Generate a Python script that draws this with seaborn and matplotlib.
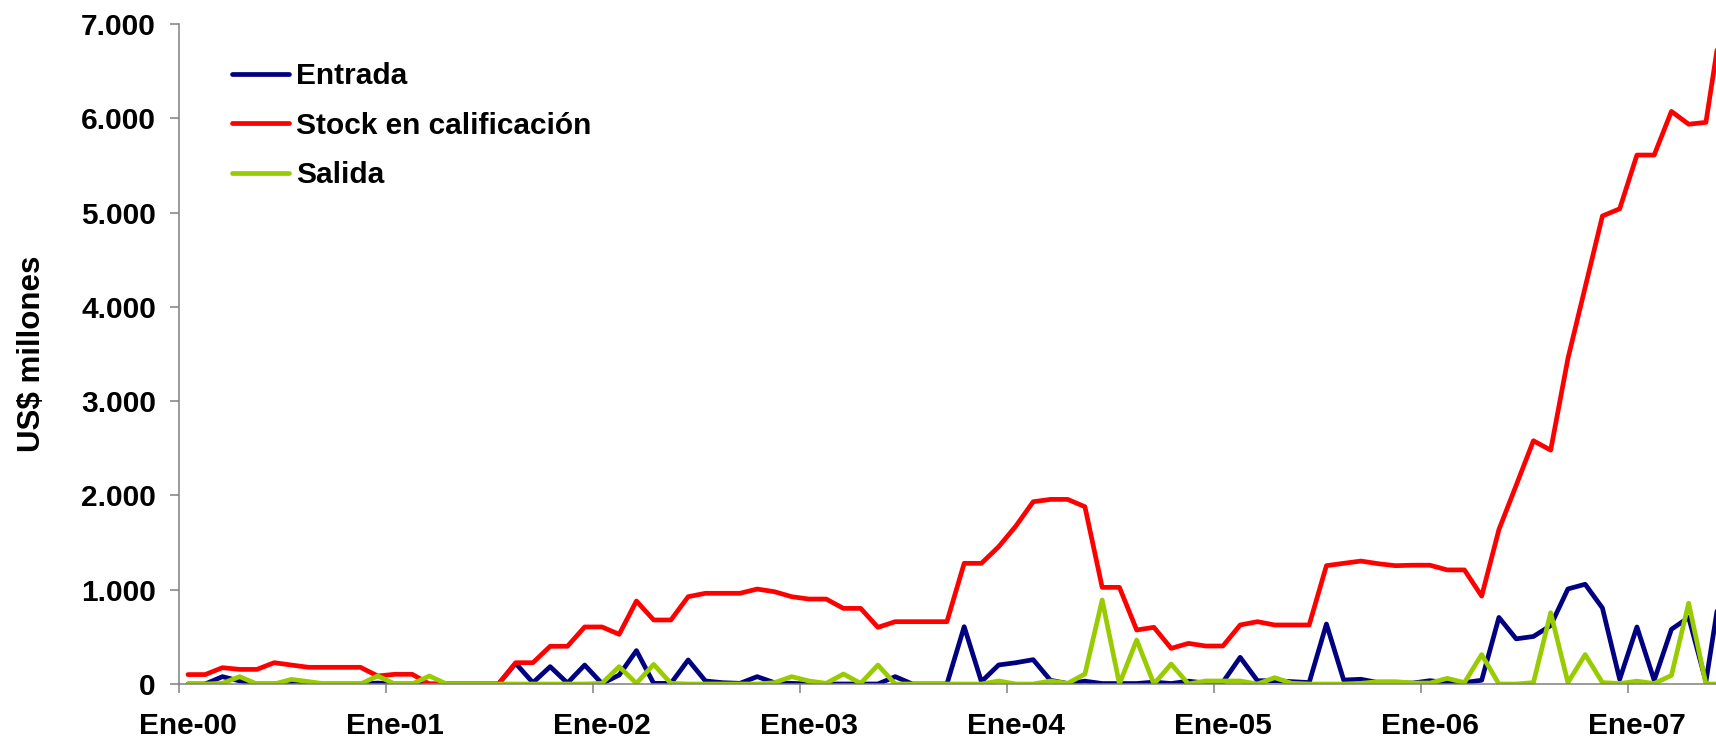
import numpy as np
import pandas as pd
import matplotlib
matplotlib.use("Agg")
import matplotlib.pyplot as plt
from matplotlib.ticker import FixedLocator, FuncFormatter
from matplotlib.lines import Line2D
import seaborn as sns

# valores mensuales desde Ene-00 (US$ millones)
entrada = [0, 0, 78, 32, 0, 0, 14, 0, 0, 0, 0, 10,
           0, 0, 0, 0, 0, 0, 0, 219, 14, 184, 10, 201,
           5, 95, 354, 7, 7, 255, 32, 14, 7, 78, 14, 7,
           0, 0, 0, 0, 0, 78, 0, 0, 0, 608, 25, 202,
           226, 258, 40, 5, 30, 5, 5, 5, 20, 5, 30, 10,
           20, 283, 35, 35, 25, 15, 636, 42, 50, 15, 10, 10,
           35, 15, 15, 40, 706, 479, 504, 620, 1008, 1058, 806, 50,
           605, 40, 580, 706, 25, 1190]
stock = [100, 100, 173, 155, 155, 226, 201, 177, 177, 177, 177, 85,
         103, 103, 0, 0, 0, 0, 0, 226, 226, 400, 400, 605,
         605, 527, 880, 679, 679, 926, 962, 962, 962, 1007, 979, 926,
         901, 901, 802, 802, 601, 661, 661, 661, 661, 1280, 1280, 1456,
         1676, 1933, 1958, 1958, 1880, 1025, 1025, 573, 601, 378, 431, 403,
         403, 626, 661, 626, 626, 626, 1255, 1280, 1304, 1276, 1255, 1260,
         1260, 1210, 1210, 932, 1638, 2107, 2580, 2480, 3452, 4208, 4964, 5040,
         5610, 5610, 6073, 5937, 5957, 7150]
salida = [0, 0, 7, 78, 0, 0, 49, 25, 0, 0, 0, 85,
          0, 0, 85, 0, 0, 0, 0, 0, 0, 0, 0, 0,
          7, 184, 7, 208, 7, 0, 0, 0, 0, 0, 14, 78,
          32, 7, 106, 7, 201, 0, 0, 0, 0, 0, 0, 32,
          0, 0, 32, 7, 106, 891, 0, 467, 0, 212, 0, 32,
          32, 32, 0, 67, 7, 0, 0, 0, 7, 25, 25, 10,
          10, 60, 15, 312, 0, 0, 15, 756, 15, 312, 15, 5,
          30, 5, 91, 857, 0, 0]

series_names = ['Entrada', 'Stock en calificación', 'Salida']
series_colors = ['#000080', '#FF0000', '#99CC00']
year_labels = ['Ene-00', 'Ene-01', 'Ene-02', 'Ene-03',
               'Ene-04', 'Ene-05', 'Ene-06', 'Ene-07']
y_ticks = [0, 1000, 2000, 3000, 4000, 5000, 6000, 7000]

meses = np.arange(len(stock))
df = pd.DataFrame({
    'mes': np.tile(meses, 3),
    'valor': entrada + stock + salida,
    'serie': np.repeat(series_names, len(meses)),
})

sns.set_style('white')
plt.rcParams['font.family'] = ['Liberation Sans', 'DejaVu Sans']
plt.rcParams['font.weight'] = 'bold'
plt.rcParams['text.color'] = 'black'
plt.rcParams['axes.labelcolor'] = 'black'
plt.rcParams['xtick.color'] = 'black'
plt.rcParams['ytick.color'] = 'black'

fig = plt.figure(figsize=(17.16, 7.45), dpi=100)
ax = fig.add_axes([179.3 / 1716, 61 / 745, (1716 - 179.3) / 1716, 660 / 745])

sns.lineplot(data=df, x='mes', y='valor', hue='serie', hue_order=series_names,
             palette=series_colors, linewidth=3.4, ax=ax, legend=False)

ax.set_xlim(-0.5, -0.5 + (1716 - 179.3) / 17.25)
ax.set_ylim(0, 7000)

# ticks entre categorías, etiquetas centradas en enero
ax.xaxis.set_major_locator(FixedLocator([-0.5 + 12 * k for k in range(len(year_labels))]))
ax.xaxis.set_minor_locator(FixedLocator([12 * k for k in range(len(year_labels))]))
ax.xaxis.set_major_formatter(FuncFormatter(lambda v, p: ''))
ax.set_xticklabels(year_labels, minor=True)
ax.tick_params(axis='x', which='major', length=6.5, width=1.1, color='#808080', direction='out', bottom=True)
ax.tick_params(axis='x', which='minor', length=0, pad=20, labelsize=21.5, labelcolor='black')

ax.set_yticks(y_ticks)
ax.yaxis.set_major_formatter(FuncFormatter(lambda v, p: f'{v:,.0f}'.replace(',', '.')))
ax.tick_params(axis='y', length=6.8, width=1.1, color='#808080', direction='out', left=True, pad=10,
               labelsize=21.5, labelcolor='black')

for s in ['top', 'right']:
    ax.spines[s].set_visible(False)
for s in ['left', 'bottom']:
    ax.spines[s].set_color('#808080')
    ax.spines[s].set_linewidth(1.1)

ax.set_xlabel('')
ax.set_ylabel('US$ millones', fontsize=22.5, fontweight='bold', color='black')
ax.yaxis.set_label_coords(-0.086, 0.5)

handles = [Line2D([0], [0], color=c, lw=3.4) for c in series_colors]
fig.legend(handles, series_names, loc='upper left', bbox_to_anchor=(232 / 1716, 1 - 62 / 745),
           frameon=False, fontsize=21.5, handlelength=1.9, handletextpad=0.25,
           labelspacing=0.72, borderpad=0, borderaxespad=0)

fig.savefig('out.png', dpi=100)
